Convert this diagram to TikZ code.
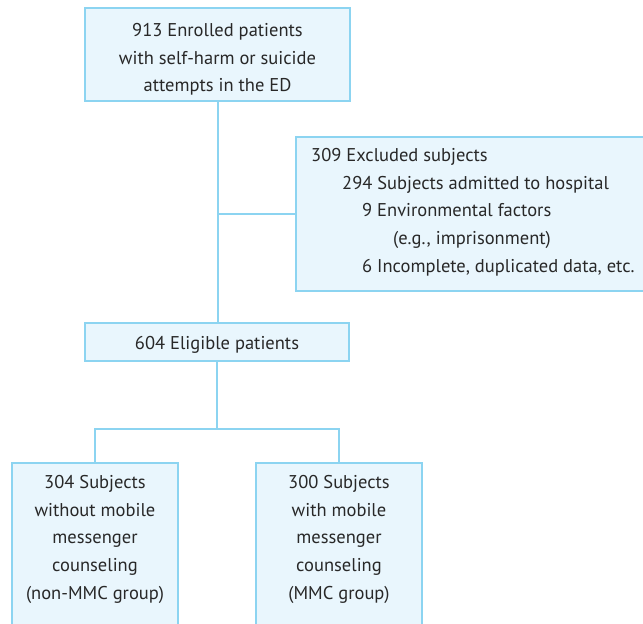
\documentclass[tikz,border=0pt]{standalone}
\usepackage{fontspec}
\setmainfont{PT Sans}
\definecolor{flowline}{RGB}{140,212,241}
\definecolor{flowfill}{RGB}{233,246,253}
\definecolor{flowtext}{RGB}{40,40,40}
\begin{document}
\begin{tikzpicture}[x=1pt, y=-1pt,
        box/.style={draw=flowline, fill=flowfill, line width=2pt, inner sep=0pt},
        boxtext/.style={text=flowtext, font=\fontsize{18.5}{27.7}\selectfont, align=center, inner sep=0pt},
        link/.style={draw=flowline, line width=2pt}
    ]
        \useasboundingbox (0,0) rectangle (643,624);
        \clip (0,0) rectangle (643,624);

        % Main stages
        \node[box, minimum width=265pt, minimum height=93pt] (enrolled) at (217.5,54.5) {};
        \node[boxtext] (enrolledtxt) at ([yshift=-5pt]enrolled.center)
            {913 Enrolled patients\\with self-harm or suicide\\attempts in the ED};
        \node[box, minimum width=264pt, minimum height=38pt] (eligible) at (217,342) {};
        \node[boxtext] (eligibletxt) at ([yshift=-2.5pt]eligible.center) {604 Eligible patients};

        % Exclusions
        \node[box, anchor=north west, minimum width=360pt, minimum height=154pt] (excluded) at (295,136) {};
        \node[boxtext, align=left, anchor=north west] (excludedtxt) at (311,148)
            {309 Excluded subjects\\
             \hspace*{31pt}294 Subjects admitted to hospital\\
             \hspace*{51pt}9 Environmental factors\\
             \hspace*{82pt}(e.g., imprisonment)\\
             \hspace*{51pt}6 Incomplete, duplicated data, etc.};

        % Groups
        \node[box, anchor=north, minimum width=166pt, minimum height=200pt] (nommc) at (95,462) {};
        \node[boxtext, anchor=north] (nommctxt) at ([yshift=-13pt]nommc.north)
            {304 Subjects\\without mobile\\messenger\\counseling\\(non-MMC group)};
        \node[box, anchor=north, minimum width=166pt, minimum height=200pt] (mmc) at (339,462) {};
        \node[boxtext, anchor=north] (mmctxt) at ([yshift=-13pt]mmc.north)
            {300 Subjects\\with mobile\\messenger\\counseling\\(MMC group)};

        % Connections
        \draw[link] (enrolled.south) -- (enrolled.south |- eligible.north);
        \draw[link] (excluded.west) -- (excluded.west -| enrolled.south);
        \coordinate (split) at ([yshift=-67pt]eligible.south);
        \draw[link] (eligible.south) -- (split);
        \draw[link] (nommc.north) |- (split) -| (mmc.north);

    \end{tikzpicture}
\end{document}
